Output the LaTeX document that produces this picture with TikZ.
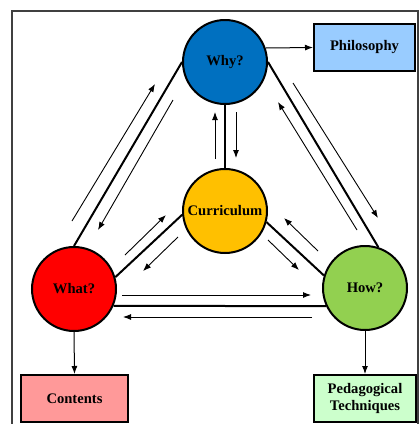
\documentclass[tikz,border=0pt]{standalone}
\usepackage{fontspec}
\setmainfont{Liberation Serif}
\usetikzlibrary{arrows.meta}
\definecolor{whyblue}{HTML}{0070C0}
\definecolor{curyellow}{HTML}{FFC000}
\definecolor{whatred}{HTML}{FF0000}
\definecolor{howgreen}{HTML}{92D050}
\definecolor{philblue}{HTML}{99CCFF}
\definecolor{contred}{HTML}{FF9999}
\definecolor{pedgreen}{HTML}{CCFFCC}
\definecolor{framegray}{HTML}{404040}
\tikzset{
  lbl/.style={font=\fontsize{14.6}{17}\selectfont\bfseries, text=black, align=center},
  bubble/.style={lbl, circle, draw=black, line width=2pt, minimum size=84pt, inner sep=0pt},
  tbox/.style={lbl, rectangle, draw=black, line width=2pt, inner sep=0pt, minimum height=47pt},
  link/.style={draw=black, line width=2pt},
  flow/.style={draw=black, line width=0.9pt, -{Latex[length=8pt,width=6pt]}},
  feed/.style={draw=black, line width=1pt, -{Latex[length=8pt,width=6pt]}}
}
\begin{document}
\begin{tikzpicture}[x=1pt,y=-1pt]
\useasboundingbox (0,0) rectangle (419,424);
\clip (0,0) rectangle (419,424);
\draw[framegray, line width=1.2pt] (12,11) rectangle (418,450);

\node[bubble, fill=whyblue] (why) at (225,62) {Why?};
\node[bubble, fill=curyellow] (cur) at (225,211) {Curriculum};
\node[bubble, fill=whatred] (what) at (74,289) {What?};
\node[bubble, fill=howgreen] (how) at (365,288) {How?};

\node[tbox, fill=philblue, minimum width=101pt] (phil) at (364.5,47.5) {Philosophy};
\node[tbox, fill=contred, minimum width=107pt] (cont) at (74.5,398.5) {Contents};
\node[tbox, fill=pedgreen, minimum width=102pt] (ped) at (365,398.5) {Pedagogical\\Techniques};

% thick links
\draw[link] (why.west) -- (what.north);
\draw[link] (why.east) -- (how.72);
\draw[link] (why.south) -- (cur.north);
\draw[link] (cur.185) -- (what.16);
\draw[link] (cur.-15) -- (how.163);
\draw[link] (what.-23) -- (how.205);

% outputs
\draw[feed] (why.19) -- (phil.west);
\draw[feed] (what.south) -- (cont.north);
\draw[feed] (how.south) -- (ped.north);

% flow arrows
\coordinate (lo1) at (72,221);  \coordinate (lo2) at (155,84);
\coordinate (li1) at (173,100); \coordinate (li2) at (98,230);
\coordinate (ri1) at (357,230); \coordinate (ri2) at (278,102);
\coordinate (ro1) at (293,83);  \coordinate (ro2) at (378,218);
\coordinate (cl1) at (215,159); \coordinate (cl2) at (215,112);
\coordinate (cr1) at (236,112); \coordinate (cr2) at (236,158);
\coordinate (wu1) at (125,255); \coordinate (wu2) at (166,215);
\coordinate (wd1) at (178,237); \coordinate (wd2) at (143,271);
\coordinate (hu1) at (318,251); \coordinate (hu2) at (284,218);
\coordinate (hd1) at (268,240); \coordinate (hd2) at (299,270);
\coordinate (ht1) at (122,295); \coordinate (ht2) at (311,295);
\coordinate (hb1) at (312,317); \coordinate (hb2) at (123,317);

\draw[flow] (lo1) -- (lo2);
\draw[flow] (li1) -- (li2);
\draw[flow] (ri1) -- (ri2);
\draw[flow] (ro1) -- (ro2);
\draw[flow] (cl1) -- (cl2);
\draw[flow] (cr1) -- (cr2);
\draw[flow] (wu1) -- (wu2);
\draw[flow] (wd1) -- (wd2);
\draw[flow] (hu1) -- (hu2);
\draw[flow] (hd1) -- (hd2);
\draw[flow] (ht1) -- (ht2);
\draw[flow] (hb1) -- (hb2);
\end{tikzpicture}
\end{document}
